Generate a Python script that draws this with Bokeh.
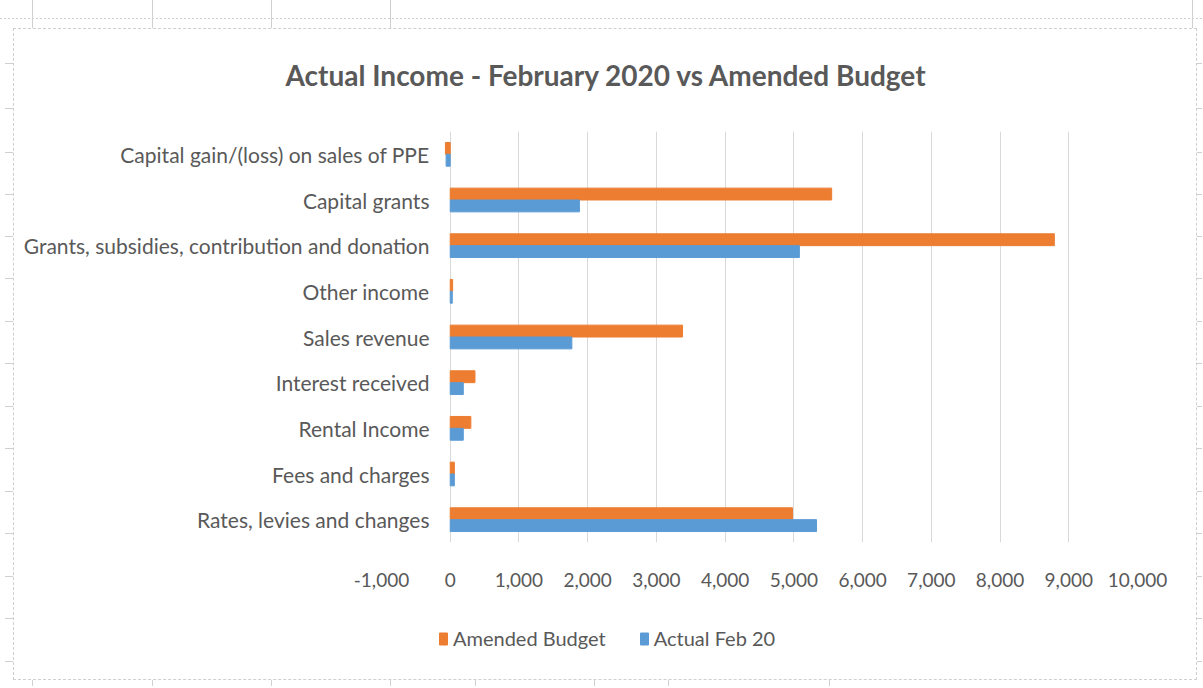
from bokeh.plotting import figure
from bokeh.layouts import column
from bokeh.models import (FactorRange, Range1d, FixedTicker, NumeralTickFormatter,
                          Legend, LegendItem, ColumnDataSource, InlineStyleSheet)
from bokeh.transform import dodge
from bokeh.embed import file_html
from bokeh.resources import INLINE

# ---- data (top-to-bottom order as shown) ----
categories = [
    "Capital gain/(loss) on sales of PPE",
    "Capital grants",
    "Grants, subsidies, contribution and donation",
    "Other income",
    "Sales revenue",
    "Interest received",
    "Rental Income",
    "Fees and charges",
    "Rates, levies and changes",
]
amended_budget = [-70, 5550, 8790, 35, 3380, 360, 300, 60, 4980]
actual_feb_20 = [-60, 1880, 5080, 30, 1770, 190, 190, 60, 5330]
x_ticks = [-1000, 0, 1000, 2000, 3000, 4000, 5000, 6000, 7000, 8000, 9000, 10000]
series_names = ["Amended Budget", "Actual Feb 20"]
series_colors = ["#ED7D31", "#5B9BD5"]
title_text = "Actual Income - February  2020 vs Amended Budget"

FONT = "Lato"
TEXT = "#595959"
GRID = "#d9d9d9"
SHEET = "#d0d0d0"
W = 1202

src = ColumnDataSource(dict(cat=categories, budget=amended_budget, actual=actual_feb_20))

p = figure(width=W, height=600,
           y_range=FactorRange(factors=list(reversed(categories))),
           x_range=Range1d(x_ticks[0], x_ticks[-1]),
           output_backend="svg", toolbar_location=None,
           min_border_left=381, min_border_right=W - 1137,
           min_border_top=131, min_border_bottom=58)

r1 = p.hbar(y=dodge("cat", 0.13, range=p.y_range), left=0, right="budget", height=0.26,
            source=src, fill_color=series_colors[0], line_color=series_colors[0])
r2 = p.hbar(y=dodge("cat", -0.13, range=p.y_range), left=0, right="actual", height=0.26,
            source=src, fill_color=series_colors[1], line_color=series_colors[1])

# title
p.title.text = title_text
p.title.text_font = FONT
p.title.text_font_size = "28px"
p.title.text_font_style = "bold"
p.title.text_color = TEXT
p.title.align = "left"
p.title.offset = -96
p.title.standoff = 80

# category axis: labels end just left of x = 0 (Excel-style crossing)
p.yaxis.axis_line_color = None
p.yaxis.major_tick_line_color = None
p.yaxis.minor_tick_line_color = None
p.yaxis.major_label_standoff = -54
p.yaxis.major_label_text_font = FONT
p.yaxis.major_label_text_font_size = "21px"
p.yaxis.major_label_text_color = TEXT
p.ygrid.grid_line_color = None

# value axis
p.xaxis.ticker = FixedTicker(ticks=x_ticks)
p.xaxis.formatter = NumeralTickFormatter(format="0,0")
p.xaxis.axis_line_color = None
p.xaxis.major_tick_line_color = None
p.xaxis.minor_tick_line_color = None
p.xaxis.major_label_standoff = 24
p.xaxis.major_label_text_font = FONT
p.xaxis.major_label_text_font_size = "19px"
p.xaxis.major_label_text_color = TEXT
p.xgrid.grid_line_color = GRID
p.xgrid.grid_line_width = 1

p.outline_line_color = None

# legend strip below the chart (frame aligned with the chart frame by the column)
lf = figure(width=W, height=86, x_range=Range1d(0, 1), y_range=Range1d(0, 1),
            x_axis_type=None, y_axis_type=None,
            output_backend="svg", toolbar_location=None,
            min_border_left=381, min_border_right=W - 1137,
            min_border_top=0, min_border_bottom=0)
lf.outline_line_color = None
# legend keys only (placed outside the visible range)
k1 = lf.hbar(y=[-10], left=[0], right=[1], height=0.5,
             fill_color=series_colors[0], line_color=series_colors[0])
k2 = lf.hbar(y=[-10], left=[0], right=[1], height=0.5,
             fill_color=series_colors[1], line_color=series_colors[1])
legend = Legend(items=[LegendItem(label=series_names[0], renderers=[k1]),
                       LegendItem(label=series_names[1], renderers=[k2])],
                orientation="horizontal", location=(57, 36),
                border_line_color=None, background_fill_alpha=0,
                padding=0, margin=0, spacing=33, label_standoff=5,
                glyph_width=10, glyph_height=15,
                label_text_font=FONT, label_text_font_size="20px",
                label_text_color=TEXT)
lf.add_layout(legend, "center")

layout = column(p, lf, spacing=0)

# ---- spreadsheet decoration (cell gridlines around the chart object), CSS only ----
def seg(x, y, w, h):
    return f"linear-gradient({SHEET},{SHEET}) {x}px {y}px / {w}px {h}px no-repeat"

row_ticks = [63, 108, 152, 194, 236, 278, 321, 363, 406, 448, 491, 533, 576, 618, 661]
top_cols = [32, 152, 271, 390, 1192]
bottom_cols = [32, 152, 271, 390, 475, 594, 668, 829]

top_layers = [f"linear-gradient(to right, {SHEET} 50%, transparent 50%) 0px 18px / 4px 1px repeat-x"]
top_layers += [seg(x, 0, 1, 28) for x in top_cols]
top_layers += [seg(5, y, 8, 1) for y in row_ticks if y < 600]
top_layers += [seg(1197, y, 6, 1) for y in row_ticks if y < 600]
bot_layers = [seg(5, y - 600, 8, 1) for y in row_ticks if y >= 600]
bot_layers += [seg(1197, y - 600, 6, 1) for y in row_ticks if y >= 600]
bot_layers += [seg(x, 80, 1, 8) for x in bottom_cols]

def deco_css(layers):
    return (":host { position: relative; }\n"
            ":host::after { content: \"\"; position: absolute; left: 0; top: 0; "
            "width: 100%; height: 100%; pointer-events: none; background: "
            + ", ".join(layers) + "; }")

p.stylesheets = [InlineStyleSheet(css=deco_css(top_layers))]
lf.stylesheets = [InlineStyleSheet(css=deco_css(bot_layers))]

border_css = """
:host { position: relative; }
:host::after { content: ""; position: absolute; left: 13px; top: 28px; width: 1184px;
  height: 652px; border: 1px dashed #cfcfcf; box-sizing: border-box; pointer-events: none; }
"""
layout.stylesheets = [InlineStyleSheet(css=border_css)]

open("out.html", "w").write(file_html(layout, INLINE))
